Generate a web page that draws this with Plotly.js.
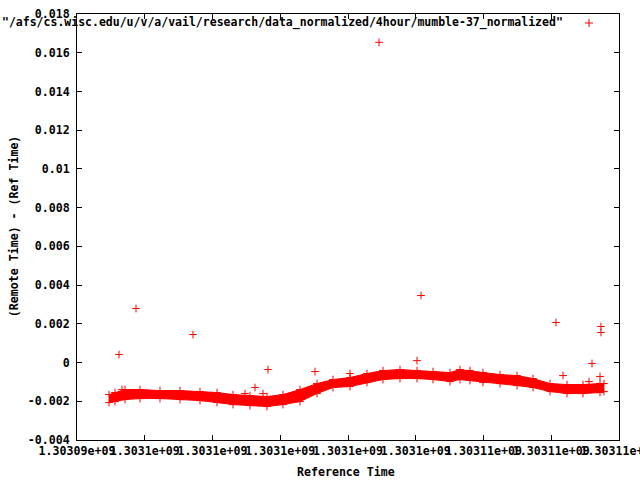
<!DOCTYPE html>
<html>
<head>
<meta charset="utf-8">
<script src="https://cdn.plot.ly/plotly-3.0.1.min.js"></script>
<style>html,body{margin:0;padding:0;background:#fff;}#chart{width:640px;height:480px;}</style>
</head>
<body>
<div id="chart"></div>
<script>
// Dense band of measurements: time, upper and lower extent of the band
var bandTime = [1303094945,1303095122,1303095417,1303095860,1303096450,1303097041,1303097631,1303098133,1303098605,1303099107,1303099609,1303100081,1303100583,1303101085,1303101557,1303102059,1303102561,1303103033,1303103535,1303104037,1303104509,1303105011,1303105306,1303105601,1303105985,1303106487,1303106989,1303107461,1303107963,1303108465,1303108937,1303109439,1303109557];
var bandUpper = [-0.001654,-0.001550,-0.001395,-0.001395,-0.001447,-0.001447,-0.001499,-0.001550,-0.001654,-0.001705,-0.001757,-0.001654,-0.001395,-0.001085,-0.000879,-0.000775,-0.000568,-0.000413,-0.000362,-0.000413,-0.000465,-0.000517,-0.000362,-0.000413,-0.000517,-0.000620,-0.000672,-0.000827,-0.001085,-0.001137,-0.001137,-0.001085,-0.001085];
var bandLower = [-0.002067,-0.002016,-0.001912,-0.001860,-0.001860,-0.001912,-0.001964,-0.002067,-0.002171,-0.002222,-0.002274,-0.002171,-0.002016,-0.001602,-0.001292,-0.001240,-0.001034,-0.000879,-0.000827,-0.000827,-0.000879,-0.000982,-0.000879,-0.000930,-0.001034,-0.001085,-0.001189,-0.001292,-0.001499,-0.001602,-0.001602,-0.001550,-0.001499];

// Isolated points
var outTime = [1303095240,1303095328,1303095742,1303097424,1303098959,1303099255,1303099491,1303099638,1303101026,1303102059,1303102915,1303104037,1303104155,1303108140,1303108347,1303109114,1303109203,1303109439,1303109468,1303109468];
var outValue = [0.000413,-0.001395,0.002791,0.001447,-0.001602,-0.001292,-0.001602,-0.000362,-0.000465,-0.000568,0.016538,0.000100,0.003463,0.002067,-0.000672,-0.000982,-0.000052,-0.000724,0.001860,0.001550];

var xTickVals = [1303094000,1303096000,1303098000,1303100000,1303102000,1303104000,1303106000,1303108000,1303110000];
var xTickText = ["1.30309e+09","1.3031e+09","1.3031e+09","1.3031e+09","1.3031e+09","1.3031e+09","1.30311e+09","1.30311e+09","1.30311e+09"];
var yTickVals = [-0.004,-0.002,0,0.002,0.004,0.006,0.008,0.01,0.012,0.014,0.016,0.018];
var yTickText = ["-0.004","-0.002","0","0.002","0.004","0.006","0.008","0.01","0.012","0.014","0.016","0.018"];

var seriesName = '"/afs/cs.wisc.edu/u/v/a/vail/research/data_normalized/4hour/mumble-37_normalized"';
var red = '#ff0000';
var mk = {symbol:'cross-thin', size:5.5, color:red, line:{color:red, width:1}};
var fnt = {family:'DejaVu Sans Mono', size:11.6, color:'#000', weight:'bold'};
var legFnt = {family:'DejaVu Sans Mono', size:11.5, color:'#000', weight:'bold'};

var traces = [
  {x:bandTime, y:bandLower, type:'scatter', mode:'lines+markers', line:{color:red, width:1}, marker:mk, hoverinfo:'skip'},
  {x:bandTime, y:bandUpper, type:'scatter', mode:'lines+markers', line:{color:red, width:1}, marker:mk, fill:'tonexty', fillcolor:red, hoverinfo:'skip'},
  {x:outTime, y:outValue, type:'scatter', mode:'markers', marker:mk}
];

var lx = 0.9446, ly = 0.9789;
var layout = {
  width:640, height:480,
  margin:{l:77, r:21, t:14, b:40, pad:0},
  paper_bgcolor:'#fff', plot_bgcolor:'#fff',
  showlegend:false,
  font:fnt,
  xaxis:{type:'linear', range:[1303094000,1303110000], tickvals:xTickVals, ticktext:xTickText, tickangle:0,
    ticklabeloverflow:'allow',
    showline:true, linecolor:'#000', linewidth:1, mirror:'ticks', ticks:'inside', ticklen:5, tickcolor:'#000',
    showgrid:false, zeroline:false, tickfont:fnt},
  yaxis:{type:'linear', range:[-0.004,0.018], tickvals:yTickVals, ticktext:yTickText,
    showline:true, linecolor:'#000', linewidth:1, mirror:'ticks', ticks:'inside', ticklen:5, tickcolor:'#000',
    showgrid:false, zeroline:false, tickfont:fnt, ticklabelstandoff:4},
  annotations:[
    {text:seriesName, xref:'paper', yref:'paper', x:0.8985, y:ly, xanchor:'right', yanchor:'middle', showarrow:false, font:legFnt, borderpad:0},
    {text:'Reference Time', xref:'paper', yref:'paper', x:0.496, y:-0.075, xanchor:'center', yanchor:'middle', showarrow:false, font:fnt},
    {text:'(Remote Time) - (Ref Time)', xref:'paper', yref:'paper', x:-0.116, y:0.5, textangle:-90, xanchor:'center', yanchor:'middle', showarrow:false, font:fnt}
  ],
  shapes:[
    {type:'line', xref:'paper', yref:'paper', x0:lx-0.0074, x1:lx+0.0074, y0:ly, y1:ly, line:{color:red, width:1}},
    {type:'line', xref:'paper', yref:'paper', x0:lx, x1:lx, y0:ly-0.0094, y1:ly+0.0094, line:{color:red, width:1}}
  ]
};

Plotly.newPlot('chart', traces, layout, {displayModeBar:false, staticPlot:true});
</script>
</body>
</html>
